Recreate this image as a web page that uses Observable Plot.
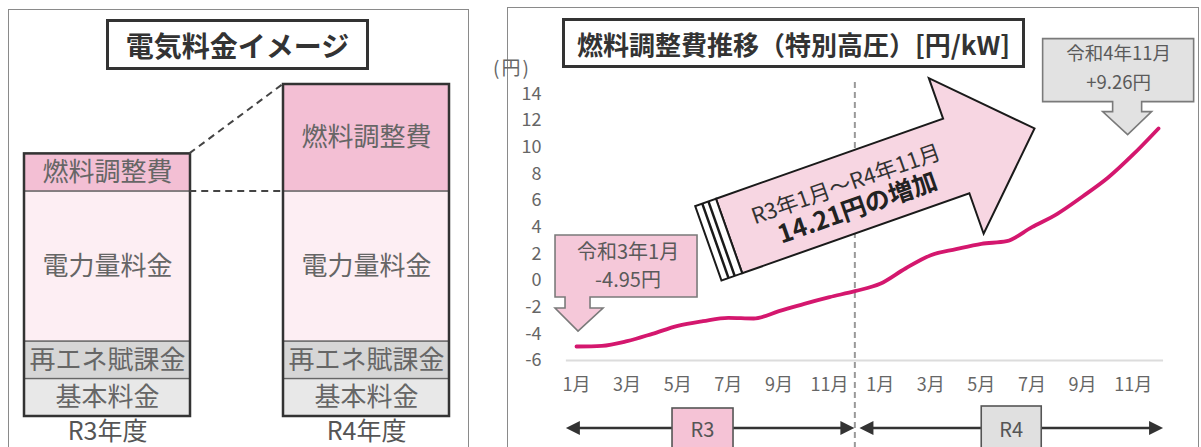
<!DOCTYPE html>
<html><head><meta charset="utf-8">
<script src="https://cdn.jsdelivr.net/npm/d3@7"></script>
<script src="https://cdn.jsdelivr.net/npm/@observablehq/plot@0.6"></script>
<style>
html,body{margin:0;padding:0;background:#fff;}
#wrap{position:relative;width:1201px;height:447px;overflow:hidden;font-family:"Noto Sans CJK JP","Noto Sans",sans-serif;}
.frame{position:absolute;border:1.5px solid #8a8a8a;box-sizing:border-box;}
.tbox{position:absolute;border:3px solid #333;box-sizing:border-box;display:flex;align-items:center;justify-content:center;font-weight:700;color:#333;background:#fff;white-space:nowrap;}
.panel{position:absolute;top:0;}
</style></head>
<body><div id="wrap">
<div class="frame" style="left:8px;top:9px;width:461px;height:480px"></div>
<div class="frame" style="left:507px;top:7px;width:692px;height:480px"></div>
<div id="left" class="panel" style="left:0px"></div>
<div id="right" class="panel" style="left:490px"></div>
<div class="tbox" style="left:106px;top:19px;width:263px;height:51px;font-size:28px">電気料金イメージ</div>
<div class="tbox" style="left:562px;top:18px;width:463px;height:50px;font-size:26px">燃料調整費推移（特別高圧）[円/kW]</div>
</div>
<script>
// ---------- data ----------
const years = ["R3年度", "R4年度"];
const parts = ["基本料金", "再エネ賦課金", "電力量料金", "燃料調整費"];
const partColors = ["#e8e8e8", "#d6d6d6", "#fdeef3", "#f3bfd4"];
const r3Values = [1, 1, 4, 1];
const r4Values = [1, 1, 4, 2.85];

const fuelValues = [-4.95, -4.9, -4.55, -4.0, -3.4, -3.05, -2.8, -2.85, -2.3, -1.75, -1.25, -0.8,
                    -0.25, 0.9, 1.9, 2.35, 2.75, 2.95, 4.0, 5.0, 6.3, 7.7, 9.45, 11.4];
const tickMonths = [0, 2, 4, 6, 8, 10, 12, 14, 16, 18, 20, 22];
const tickLabels = ["1月", "3月", "5月", "7月", "9月", "11月", "1月", "3月", "5月", "7月", "9月", "11月"];
const yTicks = [-6, -4, -2, 0, 2, 4, 6, 8, 10, 12, 14];
const yearSplit = 11;          // month index of the R3 / R4 divider
const startNote = ["令和3年1月", "-4.95円"];
const endNote = ["令和4年11月", "+9.26円"];
const arrowText = ["R3年1月～R4年11月", "14.21円の増加"];
const periodLabels = ["R3", "R4"];

const FONT = "'Noto Sans CJK JP', 'Noto Sans', sans-serif";

// ---------- left: stacked image bars ----------
const rows = [];
const totals = [];
[r3Values, r4Values].forEach((vals, k) => {
  let acc = 0;
  vals.forEach((v, j) => {
    rows.push({year: years[k], part: parts[j], y1: acc, y2: acc + v});
    acc += v;
  });
  totals.push({year: years[k], total: acc});
});

const leftPlot = Plot.plot({
  width: 490, height: 447,
  marginLeft: 23, marginRight: 41, marginTop: 84, marginBottom: 31,
  x: {domain: years, paddingInner: 0.36, paddingOuter: 0, label: null, tickSize: 0, tickPadding: 6},
  y: {domain: [0, 8.85], axis: null},
  color: {domain: parts, range: partColors},
  style: {fontFamily: FONT, fontSize: "25px", color: "#555", background: "transparent", overflow: "visible"},
  marks: [
    Plot.barY(rows, {x: "year", y1: "y1", y2: "y2", fill: "part", stroke: "#666", strokeWidth: 1.3}),
    Plot.barY(totals, {x: "year", y: "total", fill: "none", stroke: "#333", strokeWidth: 2.5}),
    Plot.text(rows, {x: "year", y: d => (d.y1 + d.y2) / 2, text: "part", fontSize: 26, fill: "#666"})
  ]
});
document.getElementById("left").appendChild(leftPlot);

{
  const sx = d3.scaleBand(years, [23, 449]).paddingInner(0.36).paddingOuter(0);
  const sy = d3.scaleLinear([0, 8.85], [416, 84]);
  const bw = sx.bandwidth();
  const g = d3.select(leftPlot).append("g").attr("stroke", "#444").attr("stroke-width", 2).attr("stroke-dasharray", "7,5").attr("fill", "none");
  const r3Total = totals[0].total, r3Base = r3Total - r3Values[3];
  g.append("line").attr("x1", sx(years[0]) + bw).attr("y1", sy(r3Total)).attr("x2", sx(years[1])).attr("y2", sy(totals[1].total));
  g.append("line").attr("x1", sx(years[0]) + bw).attr("y1", sy(r3Base)).attr("x2", sx(years[1])).attr("y2", sy(r3Base));
}

// ---------- right: fuel adjustment line ----------
const rightPlot = Plot.plot({
  width: 711, height: 447,
  marginLeft: 86, marginRight: 43, marginTop: 93.3, marginBottom: 87,
  x: {domain: [0, 23], ticks: tickMonths, tickFormat: d => tickLabels[tickMonths.indexOf(d)], tickSize: 0, tickPadding: 18, label: null},
  y: {domain: [-6, 14], ticks: yTicks, tickFormat: d => String(d), tickSize: 0, tickPadding: 35, label: null},
  style: {fontFamily: FONT, fontSize: "18px", color: "#666", background: "transparent", overflow: "visible"},
  marks: [
    Plot.ruleY([-6], {x1: -0.4, x2: 23.2, stroke: "#dcdcdc", strokeWidth: 2}),
    Plot.ruleX([yearSplit], {y1: 14.85, y2: -12.8, stroke: "#999", strokeWidth: 2, strokeDasharray: "6,4"}),
    Plot.line(fuelValues, {x: (d, i) => i, y: d => d, stroke: "#d4176e", strokeWidth: 3.8, curve: "monotone-x"})
  ]
});
document.getElementById("right").appendChild(rightPlot);

{
  const xs = d3.scaleLinear([0, 23], [86, 668]);
  const ys = d3.scaleLinear([-6, 14], [360, 93.3]);
  const svg = d3.select(rightPlot);
  const root = svg.append("g").attr("font-family", FONT);

  // unit label
  root.append("text").attr("x", 22).attr("y", 68).attr("dy", "0.35em").attr("font-size", 19)
    .attr("letter-spacing", 2).attr("fill", "#666").text("(円)");

  // big arrow: anchored from a point in the plot to a point near the end of the series
  const from = [6.05, 3.3], to = [18.12, 11.37];
  const tx = xs(from[0]), ty = ys(from[1]), px = xs(to[0]), py = ys(to[1]);
  const L = Math.hypot(px - tx, py - ty);
  const ang = Math.atan2(py - ty, px - tx) * 180 / Math.PI;
  const hw = 39.5, bwid = 82.5, hl = 83, base = L - hl;
  const ga = root.append("g").attr("transform", `translate(${tx},${ty}) rotate(${ang})`);
  ga.append("path").attr("d", `M0,${-hw}H${base}V${-bwid}L${L},0L${base},${bwid}V${hw}H0Z`)
    .attr("fill", "#f7d6e2").attr("stroke", "#1a1a1a").attr("stroke-width", 2).attr("stroke-linejoin", "miter");
  ga.append("rect").attr("x", -22).attr("y", -hw).attr("width", 22).attr("height", 2 * hw)
    .attr("fill", "#fff").attr("stroke", "#1a1a1a").attr("stroke-width", 2);
  [-8, -14.5].forEach(a => ga.append("line").attr("x1", a).attr("x2", a).attr("y1", -hw).attr("y2", hw)
    .attr("stroke", "#1a1a1a").attr("stroke-width", 2.5));
  const mid = base / 2 + 7;
  ga.append("text").attr("x", mid).attr("y", -10).attr("dy", "0.35em").attr("text-anchor", "middle")
    .attr("font-size", 22).attr("fill", "#333").text(arrowText[0]);
  ga.append("text").attr("x", mid + 3).attr("y", 16).attr("dy", "0.35em").attr("text-anchor", "middle")
    .attr("font-size", 25).attr("font-weight", 700).attr("fill", "#222").text(arrowText[1]);

  // callouts
  function callout(tipX, tipY, box, shaft, head, fill, lines, textX, textYs, fs) {
    const g = root.append("g").attr("transform", `translate(${tipX},${tipY})`);
    const [l, r, t, b] = box, [s1, s2] = shaft, [h1, h2, hy] = head;
    g.append("path").attr("d", `M${l},${t}H${r}V${b}H${s2}V${hy}H${h2}L0,0L${h1},${hy}H${s1}V${b}H${l}Z`)
      .attr("fill", fill).attr("stroke", "#7a7a7a").attr("stroke-width", 1.6);
    lines.forEach((s, k) => g.append("text").attr("x", textX).attr("y", textYs[k]).attr("dy", "0.35em")
      .attr("text-anchor", "middle").attr("font-size", fs).attr("fill", "#5a5a5a").text(s));
  }
  callout(xs(0.08), ys(-3.83), [-23, 119, -96, -34], [-13, 12], [-23, 25, -23], "#f5c8d9", startNote, 50, [-79, -51], 20);
  callout(xs(21.8), ys(10.9), [-85, 66, -96, -33], [-15, 14], [-25, 24, -23], "#e2e2e2", endNote, -9, [-81, -52], 18.5);

  // period arrows
  const yArr = 428;
  function dblArrow(x1, x2) {
    root.append("line").attr("x1", x1 + 8).attr("x2", x2 - 8).attr("y1", yArr).attr("y2", yArr).attr("stroke", "#333").attr("stroke-width", 2.5);
    root.append("path").attr("d", `M${x1},${yArr}L${x1 + 14},${yArr - 7}L${x1 + 14},${yArr + 7}Z`).attr("fill", "#333");
    root.append("path").attr("d", `M${x2},${yArr}L${x2 - 14},${yArr - 7}L${x2 - 14},${yArr + 7}Z`).attr("fill", "#333");
  }
  dblArrow(xs(-0.4), xs(yearSplit));
  dblArrow(xs(yearSplit + 0.2), xs(23.2));
  function periodBox(cx, top, w, fill, label) {
    root.append("rect").attr("x", cx - w / 2).attr("y", top).attr("width", w).attr("height", 60)
      .attr("fill", fill).attr("stroke", "#555").attr("stroke-width", 1.6);
    root.append("text").attr("x", cx).attr("y", yArr + 2).attr("dy", "0.35em").attr("text-anchor", "middle")
      .attr("font-size", 20).attr("fill", "#555").text(label);
  }
  periodBox(xs(5), 408, 61, "#f5c3d6", periodLabels[0]);
  periodBox(xs(17.2), 406, 60, "#e0e0e0", periodLabels[1]);
}
</script>
</body></html>
